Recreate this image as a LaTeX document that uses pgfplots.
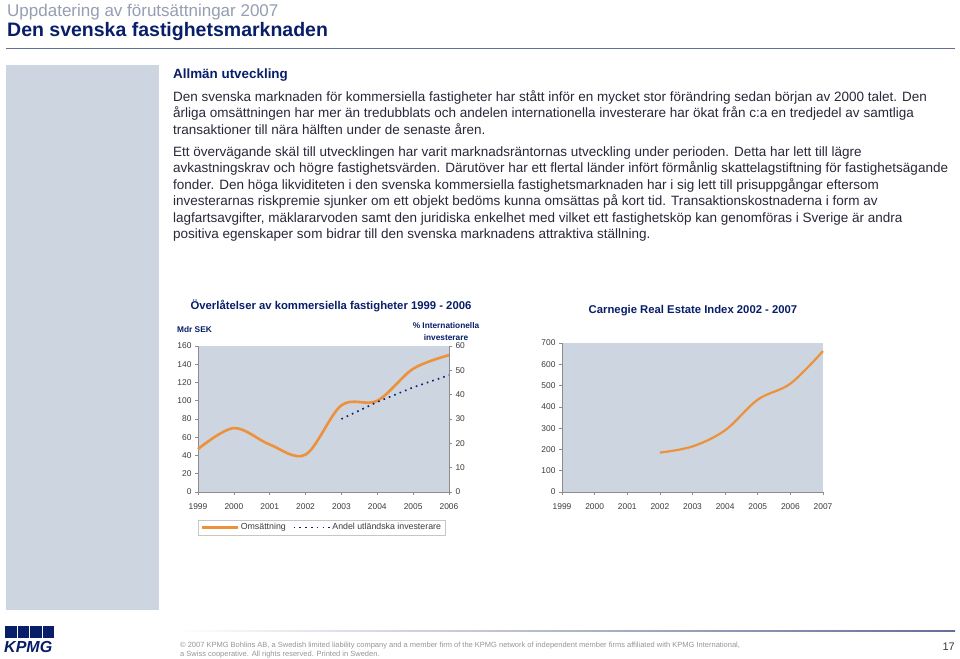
\documentclass[border=0pt]{standalone}
\usepackage{fontspec}
\setmainfont{Liberation Sans}
\usepackage{pgfplots}
\pgfplotsset{compat=1.18}
\definecolor{navy}{RGB}{8,30,105}
\definecolor{hdrgrey}{RGB}{150,158,178}
\definecolor{bodytxt}{RGB}{40,40,58}
\definecolor{panel}{RGB}{205,213,225}
\definecolor{orng}{RGB}{237,145,58}
\definecolor{axgrey}{RGB}{140,140,140}
\definecolor{ticktxt}{RGB}{60,60,60}
\definecolor{foot}{RGB}{150,150,150}
\definecolor{rule}{RGB}{100,110,150}
\pgfplotsset{
  slidechart/.style={
    scale only axis,
    anchor=south west,
    /pgf/number format/assume math mode=true,
    /pgf/number format/1000 sep={},
    axis background/.style={fill=panel},
    axis line style={axgrey, line width=0.6pt},
    tick style={axgrey, line width=0.6pt},
    tick align=outside,
    major tick length=3pt,
    ticklabel style={font=\fontsize{8.4}{9}\selectfont, text=ticktxt},
    x tick label style={yshift=-5pt},
    clip=false,
  }
}
\begin{document}
\begin{tikzpicture}[x=1pt,y=1pt]
\useasboundingbox (0,0) rectangle (960,658);
\fill[white] (0,0) rectangle (960,658);
% header
\node[anchor=base west, inner sep=0, font=\fontsize{17}{20}\selectfont, text=hdrgrey] at (7,641) {Uppdatering av förutsättningar 2007};
\node[anchor=base west, inner sep=0, font=\fontsize{19.5}{22}\selectfont\bfseries, text=navy] at (7,621) {Den svenska fastighetsmarknaden};
\draw[rule, line width=0.8pt] (6,610) -- (955,610);
% sidebar
\fill[panel] (6,48) rectangle (159,593);
% body text
\begin{scope}[every node/.style={anchor=base west, inner sep=0, font=\fontsize{13.5}{15}\selectfont, text=bodytxt}]
\node[font=\fontsize{13.4}{15}\selectfont\bfseries, text=navy] at (173,579) {Allmän utveckling};
\node at (173,556) {Den svenska marknaden för kommersiella fastigheter har stått inför en mycket stor förändring sedan början av 2000 talet. Den};
\node at (173,540) {årliga omsättningen har mer än tredubblats och andelen internationella investerare har ökat från c:a en tredjedel av samtliga};
\node at (173,523) {transaktioner till nära hälften under de senaste åren.};
\node at (173,501) {Ett övervägande skäl till utvecklingen har varit marknadsräntornas utveckling under perioden. Detta har lett till lägre};
\node at (173,485) {avkastningskrav och högre fastighetsvärden. Därutöver har ett flertal länder infört förmånlig skattelagstiftning för fastighetsägande};
\node at (173,468) {fonder. Den höga likviditeten i den svenska kommersiella fastighetsmarknaden har i sig lett till prisuppgångar eftersom};
\node at (173,452) {investerarnas riskpremie sjunker om ett objekt bedöms kunna omsättas på kort tid. Transaktionskostnaderna i form av};
\node at (173,435) {lagfartsavgifter, mäklararvoden samt den juridiska enkelhet med vilket ett fastighetsköp kan genomföras i Sverige är andra};
\node at (173,419) {positiva egenskaper som bidrar till den svenska marknadens attraktiva ställning.};
\end{scope}
% chart 1 titles
\node[anchor=base, inner sep=0, font=\fontsize{11.3}{13}\selectfont\bfseries, text=navy] at (331,348) {Överlåtelser av kommersiella fastigheter 1999 - 2006};
\node[anchor=base west, inner sep=0, font=\fontsize{8.3}{10}\selectfont\bfseries, text=navy] at (177,325) {Mdr SEK};
\node[anchor=base, inner sep=0, font=\fontsize{8.3}{10}\selectfont\bfseries, text=navy] at (446,329) {\% Internationella};
\node[anchor=base, inner sep=0, font=\fontsize{8.3}{10}\selectfont\bfseries, text=navy] at (446,317) {investerare};
% chart 1 left axis
\begin{axis}[slidechart,
  at={(198pt,166pt)}, width=251pt, height=146pt,
  xmin=1999, xmax=2006, ymin=0, ymax=160,
  xtick={1999,2000,...,2006}, ytick={0,20,...,160},
  axis x line*=bottom, axis y line*=left,
]
\addplot[orng, line width=2.6pt, smooth, tension=0.55] coordinates {
 (1999,47) (2000,70) (2001,52) (2002,41) (2003,95) (2004,100) (2005,135) (2006,150)};
\end{axis}
% chart 1 right axis
\begin{axis}[slidechart,
  axis background/.style={},
  at={(198pt,166pt)}, width=251pt, height=146pt,
  xmin=1999, xmax=2006, ymin=0, ymax=60,
  ytick={0,10,...,60},
  axis y line*=right, axis x line=none,
  legend columns=2,
  legend style={at={(0,-0.19)}, anchor=north west, draw=gray!45, fill=white,
    font=\fontsize{8.8}{10}\selectfont, text=ticktxt, inner xsep=2pt, inner ysep=1.5pt,
    /tikz/every even column/.append style={column sep=5pt}},
  legend image code/.code={\draw[#1] (0pt,0pt) -- (36pt,0pt);},
]
\addlegendimage{orng, line width=2.6pt}
\addlegendentry{Omsättning}
\addplot[navy, line width=1.6pt, dash pattern=on 1.6pt off 4.2pt] coordinates {
 (2003,30) (2004,37) (2005,43) (2006,48)};
\addlegendentry{Andel utländska investerare}
\end{axis}
% chart 2
\node[anchor=base, inner sep=0, font=\fontsize{11.3}{13}\selectfont\bfseries, text=navy] at (693,344) {Carnegie Real Estate Index 2002 - 2007};
\begin{axis}[slidechart,
  at={(562pt,166pt)}, width=261pt, height=149pt,
  xmin=1999, xmax=2007, ymin=0, ymax=700,
  xtick={1999,2000,...,2007}, ytick={0,100,...,700},
  axis x line*=bottom, axis y line*=left,
]
\addplot[orng, line width=2.2pt, smooth, tension=0.55] coordinates {
 (2002,185) (2003,214) (2004,290) (2005,434) (2006,509) (2007,662)};
\end{axis}
% footer
\shade[left color=white, right color=rule] (175,26.6) rectangle (955,27.8);
\node[anchor=base west, inner sep=0, font=\fontsize{7.5}{8}\selectfont, text=foot] at (180,11) {© 2007 KPMG Bohlins AB, a Swedish limited liability company and a member firm of the KPMG network of independent member firms affiliated with KPMG International,};
\node[anchor=base west, inner sep=0, font=\fontsize{7.5}{8}\selectfont, text=foot] at (180,1.5) {a Swiss cooperative. All rights reserved. Printed in Sweden.};
\node[anchor=base east, inner sep=0, font=\fontsize{11}{12}\selectfont, text=ticktxt] at (955,8) {17};
% KPMG logo
\foreach \i in {0,1,2,3} {\fill[navy] (5+12.6*\i,20) rectangle (16.6+12.6*\i,32);}
\node[anchor=base west, inner sep=0, font=\fontsize{16}{17}\selectfont\bfseries\itshape, text=navy] at (4,6) {KPMG};
\end{tikzpicture}
\end{document}
